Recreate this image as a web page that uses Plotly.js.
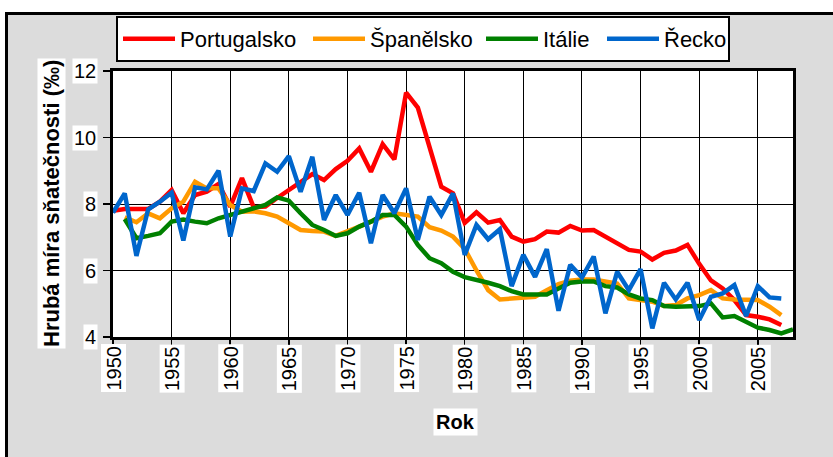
<!DOCTYPE html>
<html>
<head>
<meta charset="utf-8">
<script src="https://cdn.plot.ly/plotly-3.0.1.min.js"></script>
<style>html,body{margin:0;padding:0;background:#fff;}#chart{width:833px;height:457px;}</style>
</head>
<body>
<div id="chart"></div>
<script>
// ---- data ----
const seriesNames = ["Portugalsko", "Španělsko", "Itálie", "Řecko"];
const seriesColors = ["#ff0000", "#ff9900", "#008000", "#0066cc"];

const yearsPortugal = [1950,1951,1952,1953,1954,1955,1956,1957,1958,1959,1960,1961,1962,1963,1964,1965,1966,1967,1968,1969,1970,1971,1972,1973,1974,1975,1976,1977,1978,1979,1980,1981,1982,1983,1984,1985,1986,1987,1988,1989,1990,1991,1992,1993,1994,1995,1996,1997,1998,1999,2000,2001,2002,2003,2004,2005,2006,2007];
const portugal = [7.8,7.85,7.85,7.85,8.07,8.42,7.72,8.27,8.37,8.6,7.92,8.78,7.9,7.92,8.18,8.42,8.67,8.9,8.72,9.05,9.3,9.67,8.97,9.8,9.34,11.35,10.9,9.72,8.52,8.32,7.43,7.75,7.44,7.52,7.02,6.87,6.94,7.17,7.14,7.34,7.2,7.22,7.02,6.82,6.62,6.57,6.33,6.53,6.6,6.77,6.2,5.7,5.46,5.11,4.66,4.61,4.53,4.36];

const yearsSpain = [1951,1952,1953,1954,1955,1956,1957,1958,1959,1960,1961,1962,1963,1964,1965,1966,1967,1968,1969,1970,1971,1972,1973,1974,1975,1976,1977,1978,1979,1980,1981,1982,1983,1984,1985,1986,1987,1988,1989,1990,1991,1992,1993,1994,1995,1996,1997,1998,1999,2000,2001,2002,2003,2004,2005,2006,2007];
const spain = [7.6,7.45,7.72,7.57,7.87,8.07,8.67,8.47,8.47,7.97,7.77,7.78,7.72,7.62,7.42,7.22,7.19,7.17,7.04,7.17,7.32,7.47,7.62,7.72,7.67,7.62,7.3,7.2,7.02,6.65,6.0,5.41,5.13,5.16,5.18,5.21,5.41,5.59,5.69,5.73,5.73,5.67,5.61,5.16,5.11,5.06,4.93,4.96,5.16,5.26,5.41,5.16,5.13,5.11,5.11,4.91,4.66];

const yearsItaly = [1951,1952,1953,1954,1955,1956,1957,1958,1959,1960,1961,1962,1963,1964,1965,1966,1967,1968,1969,1970,1971,1972,1973,1974,1975,1976,1977,1978,1979,1980,1981,1982,1983,1984,1985,1986,1987,1988,1989,1990,1991,1992,1993,1994,1995,1996,1997,1998,1999,2000,2001,2002,2003,2004,2005,2006,2007,2008];
const italy = [7.55,6.97,7.04,7.12,7.47,7.53,7.47,7.42,7.57,7.67,7.74,7.84,7.97,8.2,8.1,7.72,7.37,7.22,7.04,7.12,7.32,7.47,7.67,7.67,7.32,6.77,6.37,6.22,5.96,5.8,5.73,5.63,5.53,5.38,5.28,5.28,5.28,5.46,5.63,5.67,5.67,5.53,5.49,5.28,5.16,5.11,4.93,4.91,4.93,4.93,5.01,4.59,4.63,4.46,4.28,4.21,4.11,4.23];

const yearsGreece = [1950,1951,1952,1953,1954,1955,1956,1957,1958,1959,1960,1961,1962,1963,1964,1965,1966,1967,1968,1969,1970,1971,1972,1973,1974,1975,1976,1977,1978,1979,1980,1981,1982,1983,1984,1985,1986,1987,1988,1989,1990,1991,1992,1993,1994,1995,1996,1997,1998,1999,2000,2001,2002,2003,2004,2005,2006,2007];
const greece = [7.74,8.32,6.44,7.84,8.07,8.34,6.9,8.5,8.44,9.0,7.02,8.47,8.39,9.22,8.97,9.44,8.37,9.42,7.52,8.27,7.67,8.34,6.82,8.27,7.72,8.47,6.92,8.22,7.67,8.32,6.47,7.37,6.94,7.24,5.53,6.47,5.81,6.64,4.79,6.17,5.79,6.42,4.71,5.96,5.41,6.04,4.26,5.63,5.13,5.63,4.51,5.21,5.31,5.56,4.63,5.53,5.19,5.16];

const xTickLabels = ["1950","1955","1960","1965","1970","1975","1980","1985","1990","1995","2000","2005"];
const xTickValues = [1950,1955,1960,1965,1970,1975,1980,1985,1990,1995,2000,2005];
const yTickValues = [4,6,8,10,12];
const yTickLabels = ["4","6","8","10","12"];
const xTitle = "Rok";
const yTitle = "Hrubá míra sňatečnosti (‰)";

// ---- layout helpers (pixel -> paper) ----
const W = 833, H = 457;
const M = {l: 113, r: 40, t: 71, b: 120};
const PW = W - M.l - M.r, PH = H - M.t - M.b;
const px = v => (v - M.l) / PW;
const py = v => (H - M.b - v) / PH;

const FONT = "Arial, 'Liberation Sans', sans-serif";
const xs = [yearsPortugal, yearsSpain, yearsItaly, yearsGreece];
const ys = [portugal, spain, italy, greece];
const legendWidths = [123, 106, 54, 59];

const traces = seriesNames.map((n, i) => ({
  type: "scatter", mode: "lines", name: n,
  x: xs[i], y: ys[i],
  line: {color: seriesColors[i], width: 4.5},
  legendwidth: legendWidths[i]
}));

const annotations = [];
xTickValues.forEach((v, i) => annotations.push({
  x: v, xref: "x", y: 0, yref: "paper", yanchor: "top", xanchor: "center",
  yshift: -7, textangle: -90, text: xTickLabels[i], showarrow: false,
  bgcolor: "#ffffff", borderpad: 1, font: {family: FONT, size: 20, color: "#000"}
}));
yTickValues.forEach((v, i) => annotations.push({
  x: 0, xref: "paper", y: v, yref: "y", xanchor: "right", yanchor: "middle",
  xshift: -15, text: yTickLabels[i], showarrow: false,
  bgcolor: "#ffffff", borderpad: 1, font: {family: FONT, size: 20, color: "#000"}
}));
annotations.push({
  x: px(51), xref: "paper", y: 0.5, yref: "paper", xanchor: "center", yanchor: "middle",
  textangle: -90, text: "<b>" + yTitle + "</b>", showarrow: false,
  bgcolor: "#ffffff", borderpad: 1, font: {family: FONT, size: 22, color: "#000"}
});
annotations.push({
  x: px(455), xref: "paper", y: py(422), yref: "paper", xanchor: "center", yanchor: "middle",
  text: "<b>" + xTitle + "</b>", showarrow: false,
  bgcolor: "#ffffff", borderpad: 2, font: {family: FONT, size: 20, color: "#000"}
});

const shapes = [
  {type: "rect", xref: "paper", yref: "paper", x0: px(-5), x1: px(840), y0: py(12), y1: py(-5), fillcolor: "#ffffff", line: {width: 0}, layer: "above"},
  {type: "rect", xref: "paper", yref: "paper", x0: px(-5), x1: px(5), y0: py(470), y1: py(-5), fillcolor: "#ffffff", line: {width: 0}, layer: "above"},
  {type: "rect", xref: "paper", yref: "paper", x0: px(6.5), x1: px(850), y0: py(470), y1: py(13.5), fillcolor: "rgba(0,0,0,0)", line: {color: "#000", width: 3}, layer: "above"}
];

const layout = {
  width: W, height: H,
  margin: M,
  paper_bgcolor: "#dcdcdc",
  plot_bgcolor: "#ffffff",
  font: {family: FONT, color: "#000"},
  showlegend: true,
  legend: {
    orientation: "h", x: px(116), xanchor: "left", y: py(16), yanchor: "top",
    bgcolor: "#ffffff", bordercolor: "#000", borderwidth: 2, itemwidth: 52,
    font: {family: FONT, size: 22, color: "#000"}, traceorder: "normal"
  },
  xaxis: {
    range: [1950, 2008], tickvals: xTickValues, showticklabels: false,
    ticks: "outside", ticklen: 6, tickwidth: 1.5, tickcolor: "#000",
    showgrid: true, gridcolor: "#000", gridwidth: 1,
    showline: true, linecolor: "#000", linewidth: 3, mirror: true, zeroline: false
  },
  yaxis: {
    range: [4, 12], tickvals: yTickValues, showticklabels: false,
    ticks: "outside", ticklen: 7, tickwidth: 1.5, tickcolor: "#000",
    showgrid: true, gridcolor: "#000", gridwidth: 1,
    showline: true, linecolor: "#000", linewidth: 3, mirror: true, zeroline: false
  },
  annotations: annotations,
  shapes: shapes
};

Plotly.newPlot("chart", traces, layout, {displayModeBar: false, staticPlot: true});
</script>
</body>
</html>
